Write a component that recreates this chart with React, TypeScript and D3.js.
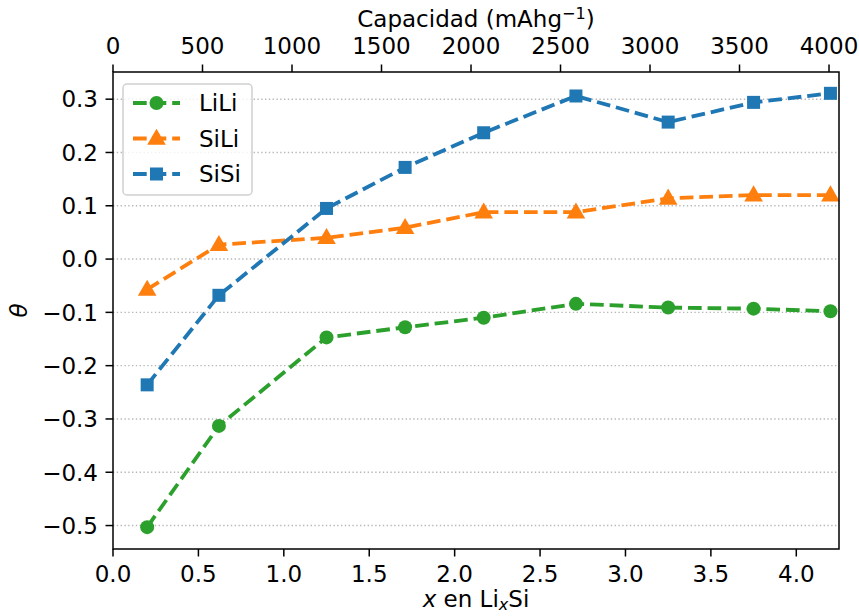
import React from "react";
import * as d3 from "d3";

// Lithium fraction x in LixSi for each computed structure
const xValues = [0.2, 0.62, 1.25, 1.71, 2.17, 2.71, 3.25, 3.75, 4.2];
const seriesNames = ["LiLi", "SiLi", "SiSi"];
const lili = [-0.503, -0.313, -0.147, -0.128, -0.11, -0.084, -0.091, -0.093, -0.098];
const sili = [-0.057, 0.027, 0.04, 0.059, 0.088, 0.088, 0.114, 0.12, 0.12];
const sisi = [-0.236, -0.068, 0.095, 0.172, 0.237, 0.306, 0.257, 0.294, 0.311];
const xTicks = [0, 0.5, 1, 1.5, 2, 2.5, 3, 3.5, 4];
const yTicks = [-0.5, -0.4, -0.3, -0.2, -0.1, 0, 0.1, 0.2, 0.3];
const capTicks = [0, 500, 1000, 1500, 2000, 2500, 3000, 3500, 4000];
// Specific capacity (mAh/g) delivered per Li in Si
const mAhPerX = 954.3;

const W = 859;
const H = 616;
const left = 113;
const right = 839;
const top = 72;
const bottom = 549;
const FONT = "DejaVu Sans, sans-serif";
const FS = 23;
const TICK = 7.5;

const x = d3.scaleLinear().domain([0, 4.25]).range([left, right]);
const y = d3.scaleLinear().domain([-0.544, 0.351]).range([bottom, top]);
const xCap = d3.scaleLinear().domain([0, 4.25 * mAhPerX]).range([left, right]);

const fmt = (v: number) => {
  const s = v.toFixed(1);
  return v < 0 ? "\u2212" + s.slice(1) : s;
};

type Series = { name: string; values: number[]; color: string; marker: "circle" | "triangle" | "square" };
const series: Series[] = [
  { name: seriesNames[0], values: lili, color: "#2ca02c", marker: "circle" },
  { name: seriesNames[1], values: sili, color: "#ff7f0e", marker: "triangle" },
  { name: seriesNames[2], values: sisi, color: "#1f77b4", marker: "square" },
];

const LW = 3.8;
const DASH = "13.7,5.9";

function Marker({ kind, cx, cy, color }: { kind: Series["marker"]; cx: number; cy: number; color: string }) {
  if (kind === "circle") return <circle cx={cx} cy={cy} r={7} fill={color} />;
  if (kind === "square") return <rect x={cx - 6.5} y={cy - 6.5} width={13} height={13} fill={color} />;
  const path = d3.symbol(d3.symbolTriangle, 150)() as string;
  return <path d={path} transform={`translate(${cx},${cy + 1})`} fill={color} />;
}

export default function App() {
  const line = d3
    .line<number>()
    .x((_, i) => x(xValues[i]))
    .y((d) => y(d));

  return (
    <svg width={W} height={H} style={{ position: "absolute", left: 0, top: 0, background: "#fff" }} fontFamily={FONT}>
      <rect x={0} y={0} width={W} height={H} fill="#fff" />
      {/* horizontal dotted grid */}
      {yTicks.map((t) => (
        <line key={"g" + t} x1={left} x2={right} y1={y(t)} y2={y(t)} stroke="#b8b8b8" strokeWidth={1.4} strokeDasharray="1.4,2.4" />
      ))}

      {/* series */}
      {series.map((s) => (
        <g key={s.name}>
          <path d={line(s.values) as string} fill="none" stroke={s.color} strokeWidth={LW} strokeDasharray={DASH} />
          {s.values.map((v, i) => (
            <Marker key={i} kind={s.marker} cx={x(xValues[i])} cy={y(v)} color={s.color} />
          ))}
        </g>
      ))}

      {/* frame */}
      <rect x={left} y={top} width={right - left} height={bottom - top} fill="none" stroke="#000" strokeWidth={1.5} />

      {/* bottom axis */}
      {xTicks.map((t) => (
        <g key={"x" + t}>
          <line x1={x(t)} x2={x(t)} y1={bottom} y2={bottom + TICK} stroke="#000" strokeWidth={1.5} />
          <text x={x(t)} y={582} textAnchor="middle" fontSize={FS}>
            {t.toFixed(1)}
          </text>
        </g>
      ))}
      <text x={(left + right) / 2} y={607} textAnchor="middle" fontSize={FS}>
        <tspan fontStyle="italic">x</tspan> en Li
        <tspan fontStyle="italic" fontSize={FS * 0.7} dy={3}>x</tspan>
        <tspan dy={-3}>Si</tspan>
      </text>

      {/* top axis: capacity */}
      {capTicks.map((t) => (
        <g key={"c" + t}>
          <line x1={xCap(t)} x2={xCap(t)} y1={top} y2={top - TICK} stroke="#000" strokeWidth={1.5} />
          <text x={xCap(t)} y={54} textAnchor="middle" fontSize={FS}>
            {t}
          </text>
        </g>
      ))}
      <text x={(left + right) / 2} y={27} textAnchor="middle" fontSize={FS}>
        Capacidad (mAhg
        <tspan fontSize={FS * 0.7} dy={-8}>{"\u22121"}</tspan>
        <tspan dy={8}>)</tspan>
      </text>

      {/* left axis */}
      {yTicks.map((t) => (
        <g key={"y" + t}>
          <line x1={left} x2={left - TICK} y1={y(t)} y2={y(t)} stroke="#000" strokeWidth={1.5} />
          <text x={left - 15} y={y(t)} dy="0.36em" textAnchor="end" fontSize={FS}>
            {fmt(t)}
          </text>
        </g>
      ))}
      <text transform={`translate(27,${(top + bottom) / 2}) rotate(-90)`} textAnchor="middle" fontSize={FS} fontStyle="italic">
        θ
      </text>

      {/* legend */}
      <rect x={123} y={84} width={129} height={111} rx={4} fill="#fff" fillOpacity={0.8} stroke="#d0d0d0" strokeWidth={1.5} />
      {series.map((s, i) => {
        const ly = 103 + i * 35.5;
        return (
          <g key={"l" + s.name}>
            <line x1={133} x2={180} y1={ly} y2={ly} stroke={s.color} strokeWidth={LW} strokeDasharray={DASH} />
            <Marker kind={s.marker} cx={156.5} cy={ly} color={s.color} />
            <text x={199} y={ly} dy="0.36em" fontSize={FS}>
              {s.name}
            </text>
          </g>
        );
      })}
    </svg>
  );
}
